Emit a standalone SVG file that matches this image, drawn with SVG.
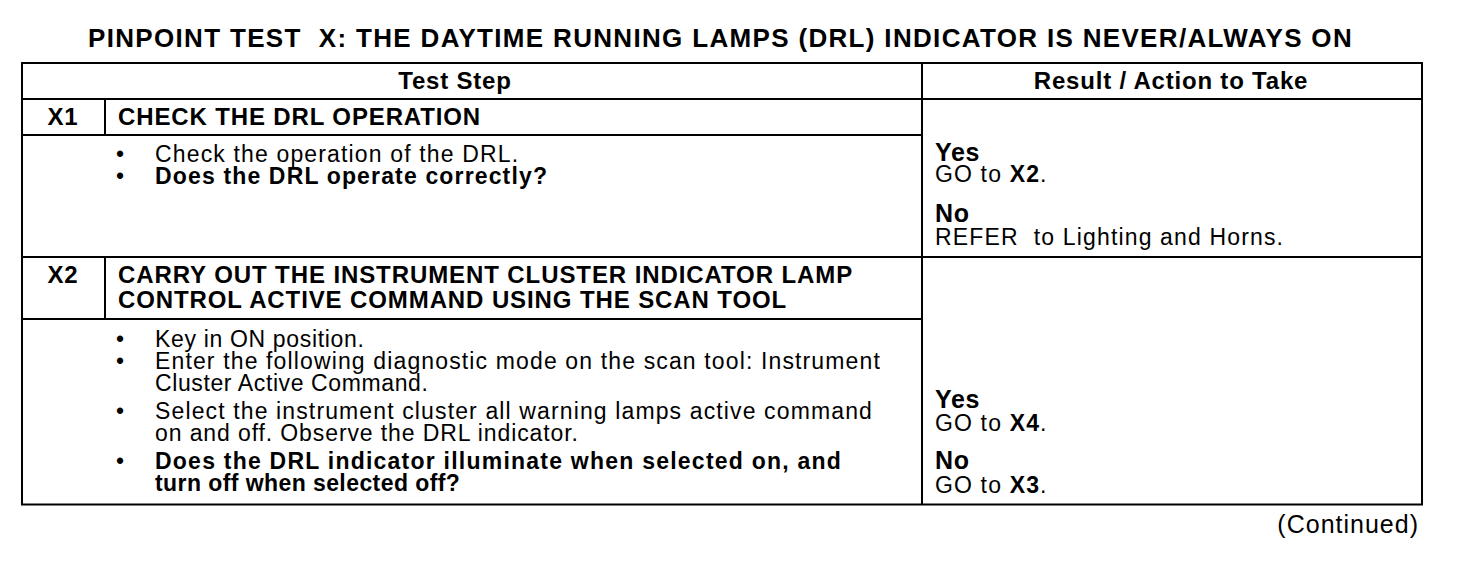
<svg xmlns="http://www.w3.org/2000/svg" width="1472" height="564" viewBox="0 0 1472 564">
<style>
text{font-family:"Liberation Sans",Arial,Helvetica,sans-serif;fill:#000;}
.t{font-size:26px;font-weight:bold;letter-spacing:1.3px;}
.h{font-size:24px;font-weight:bold;letter-spacing:0.8px;}
.r{font-size:23px;letter-spacing:1.15px;}
.b{font-size:23px;font-weight:bold;letter-spacing:1.15px;}
.yn{font-size:25px;font-weight:bold;letter-spacing:0.6px;}
.bul{font-size:23px;}
.c{font-size:25px;letter-spacing:1px;}
.ln{stroke:#000;stroke-width:2;fill:none;}
</style>
<rect width="1472" height="564" fill="#fff"/>
<g id="title">
<text class="t" x="88" y="47" textLength="1265" lengthAdjust="spacing" xml:space="preserve">PINPOINT TEST  X: THE DAYTIME RUNNING LAMPS (DRL) INDICATOR IS NEVER/ALWAYS ON</text>
</g>
<g id="grid" class="ln">
<rect x="22" y="63" width="1400" height="441.5"/>
<line x1="22" y1="99" x2="1422" y2="99"/>
<line x1="922" y1="63" x2="922" y2="504.5"/>
<line x1="105" y1="99" x2="105" y2="135"/>
<line x1="22" y1="135" x2="922" y2="135"/>
<line x1="22" y1="257" x2="1422" y2="257"/>
<line x1="105" y1="257" x2="105" y2="319"/>
<line x1="22" y1="319" x2="922" y2="319"/>
</g>
<g id="header">
<text class="h" x="455" y="89" text-anchor="middle">Test Step</text>
<text class="h" x="1171" y="89" text-anchor="middle">Result / Action to Take</text>
</g>
<g id="x1">
<text class="h" x="63" y="125" text-anchor="middle">X1</text>
<text class="h" x="118" y="125" textLength="363" lengthAdjust="spacing">CHECK THE DRL OPERATION</text>
<text class="bul" x="116" y="162">•</text>
<text class="r" x="155" y="162">Check the operation of the DRL.</text>
<text class="bul" x="116" y="184">•</text>
<text class="b" x="155" y="184">Does the DRL operate correctly?</text>
</g>
<g id="x1-result">
<text class="yn" x="935" y="161">Yes</text>
<text class="r" x="935" y="182">GO to <tspan font-weight="bold">X2</tspan>.</text>
<text class="yn" x="935" y="222">No</text>
<text class="r" x="935" y="245" xml:space="preserve">REFER  to Lighting and Horns.</text>
</g>
<g id="x2">
<text class="h" x="63" y="283" text-anchor="middle">X2</text>
<text class="h" x="118" y="283" textLength="735" lengthAdjust="spacing">CARRY OUT THE INSTRUMENT CLUSTER INDICATOR LAMP</text>
<text class="h" x="118" y="308" textLength="669" lengthAdjust="spacing">CONTROL ACTIVE COMMAND USING THE SCAN TOOL</text>
<text class="bul" x="116" y="347">•</text>
<text class="r" x="155" y="347" textLength="210" lengthAdjust="spacing">Key in ON position.</text>
<text class="bul" x="116" y="369">•</text>
<text class="r" x="155" y="369" textLength="726" lengthAdjust="spacing">Enter the following diagnostic mode on the scan tool: Instrument</text>
<text class="r" x="155" y="391" textLength="274" lengthAdjust="spacing">Cluster Active Command.</text>
<text class="bul" x="116" y="419">•</text>
<text class="r" x="155" y="419" textLength="718" lengthAdjust="spacing">Select the instrument cluster all warning lamps active command</text>
<text class="r" x="155" y="441" textLength="424" lengthAdjust="spacing">on and off. Observe the DRL indicator.</text>
<text class="bul" x="116" y="469">•</text>
<text class="b" x="155" y="469" textLength="687" lengthAdjust="spacing">Does the DRL indicator illuminate when selected on, and</text>
<text class="b" x="155" y="491" textLength="306" lengthAdjust="spacing">turn off when selected off?</text>
</g>
<g id="x2-result">
<text class="yn" x="935" y="408">Yes</text>
<text class="r" x="935" y="431">GO to <tspan font-weight="bold">X4</tspan>.</text>
<text class="yn" x="935" y="469">No</text>
<text class="r" x="935" y="493">GO to <tspan font-weight="bold">X3</tspan>.</text>
</g>
<g id="footer">
<text class="c" x="1419" y="533" text-anchor="end">(Continued)</text>
</g>
</svg>
